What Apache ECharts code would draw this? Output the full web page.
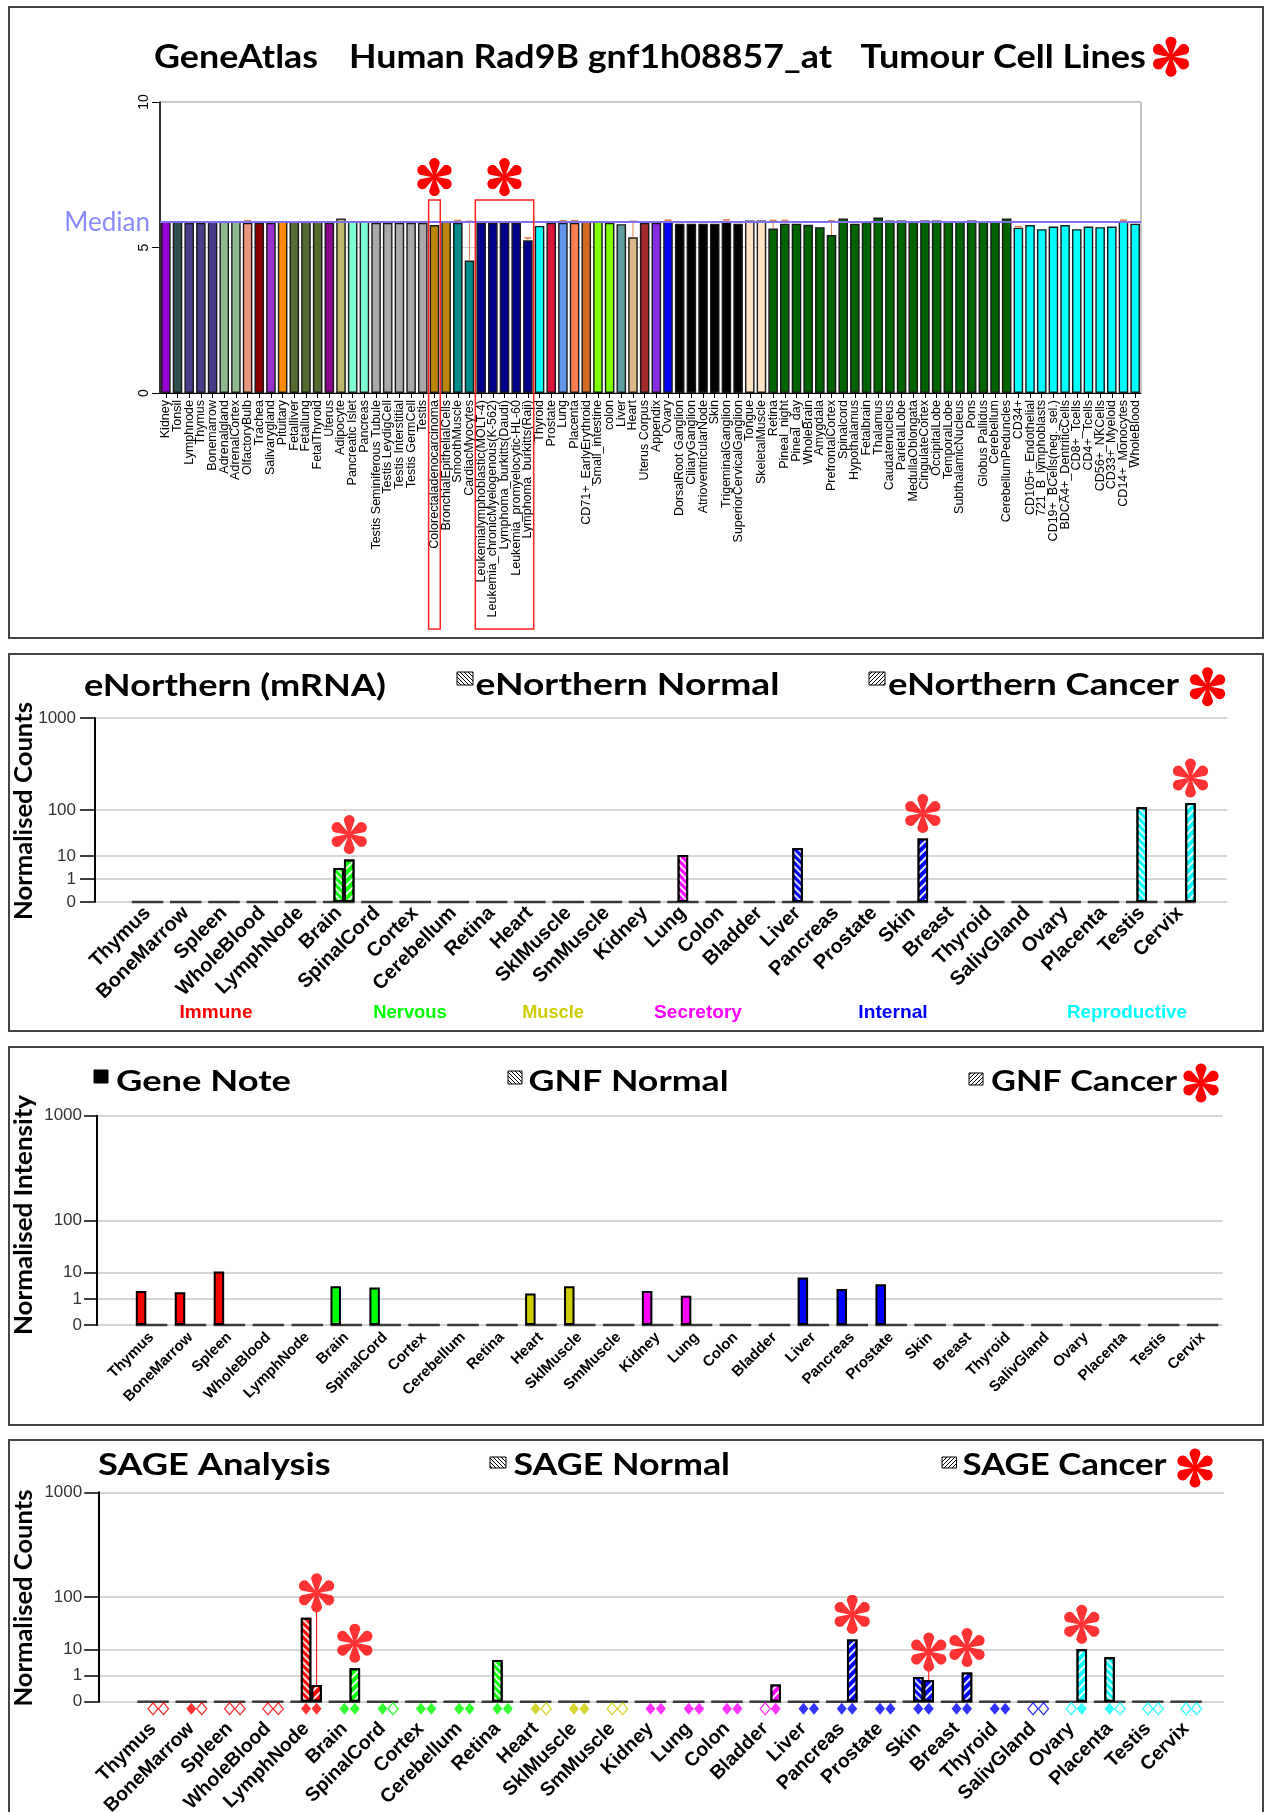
<!DOCTYPE html>
<html><head><meta charset="utf-8">
<script src="https://cdn.jsdelivr.net/npm/echarts@6/dist/echarts.min.js"></script>
<style>html,body{margin:0;padding:0;background:#fff}#c{width:1270px;height:1812px}</style>
</head><body><div id="c"></div>
<script>
// ---------------- DATA ----------------
const gaTissues = ['Kidney','Tonsil','Lymphnode','Thymus','Bonemarrow','Adrenalgland','AdrenalCortex','OlfactoryBulb','Trachea','Salivarygland','Pituitary','Fetalliver','Fetallung','FetalThyroid','Uterus','Adipocyte','Pancreatic Islet','Pancreas','Testis Seminiferous Tubule','Testis LeydigCell','Testis Interstitial','Testis GermCell','Testis','Colorectaladenocarcinoma','BronchialEpithelialCells','SmoothMuscle','CardiacMyocytes','Leukemialymphoblastic(MOLT-4)','Leukemia_chronicMyelogenous(K-562)','Lymphoma_burkitts(Daudi)','Leukemia_promyelocytic-HL-60','Lymphoma_burkitts(Raji)','Thyroid','Prostate','Lung','Placenta','CD71+_EarlyErythroid','Small_intestine','colon','Liver','Heart','Uterus Corpus','Appendix','Ovary','DorsalRoot Ganglion','CiliaryGanglion','AtrioventricularNode','Skin','TrigeminalGanglion','SuperiorCervicalGanglion','Tongue','SkeletalMuscle','Retina','Pineal_night','Pineal_day','WholeBrain','Amygdala','PrefrontalCortex','Spinalcord','Hypothalamus','Fetalbrain','Thalamus','Caudatenucleus','ParietalLobe','MedullaOblongata','CingulateCortex','OccipitalLobe','TemporalLobe','SubthalamicNucleus','Pons','Globus Pallidus','Cerebellum','CerebellumPeduncles','CD34+','CD105+_Endothelial','721_B_lymphoblasts','CD19+_BCells(neg._sel.)','BDCA4+_DentriticCells','CD8+_Tcells','CD4+_Tcells','CD56+_NKCells','CD33+_Myeloid','CD14+_Monocytes','WholeBlood'];
const gaValues = [5.9,5.9,5.85,5.85,5.9,5.9,5.9,5.85,5.85,5.85,5.9,5.9,5.9,5.9,5.85,6.0,5.9,5.9,5.85,5.85,5.85,5.85,5.85,5.77,5.9,5.85,4.55,5.85,5.85,5.85,5.85,5.25,5.74,5.85,5.85,5.85,5.9,5.9,5.85,5.8,5.35,5.85,5.85,5.9,5.82,5.82,5.82,5.82,5.9,5.82,5.93,5.93,5.65,5.82,5.82,5.78,5.7,5.43,6.0,5.82,5.88,6.03,5.93,5.93,5.9,5.93,5.93,5.9,5.9,5.93,5.9,5.9,6.0,5.68,5.77,5.63,5.72,5.77,5.63,5.72,5.7,5.72,5.89,5.82];
const gaErrHigh = {'OlfactoryBulb':5.92,'SmoothMuscle':5.93,'CardiacMyocytes':5.9,'Lymphoma_burkitts(Raji)':5.33,'Lung':5.92,'Placenta':5.92,'Heart':5.9,'Ovary':5.94,'TrigeminalGanglion':5.95,'Retina':5.93,'Pineal_night':5.93,'PrefrontalCortex':5.92,'CD34+':5.72,'CD14+_Monocytes':5.94};
const gaMedian = 5.87;
const gaHighlight = [['Colorectaladenocarcinoma','Colorectaladenocarcinoma'],['Leukemialymphoblastic(MOLT-4)','Lymphoma_burkitts(Raji)']];
const gaTicks = [0,5,10];

const tissues = ['Thymus','BoneMarrow','Spleen','WholeBlood','LymphNode','Brain','SpinalCord','Cortex','Cerebellum','Retina','Heart','SklMuscle','SmMuscle','Kidney','Lung','Colon','Bladder','Liver','Pancreas','Prostate','Skin','Breast','Thyroid','SalivGland','Ovary','Placenta','Testis','Cervix'];
const tissueGroup = [0,0,0,0,0,1,1,1,1,1,2,2,2,3,3,3,3,4,4,4,4,4,4,4,5,5,5,5];
const groupNames = ['Immune','Nervous','Muscle','Secretory','Internal','Reproductive'];

const enNormal = [0,0,0,0,0,3,0,0,0,0,0,0,0,0,10.5,0,0,15,0,0,0,0,0,0,0,0,107,0];
const enCancer = [0,0,0,0,0,7,0,0,0,0,0,0,0,0,0,0,0,0,0,0,24,0,0,0,0,0,0,119];
const enStars = ['Brain','Skin','Cervix'];

const geneNote = [2.0,1.8,10.5,0,0,3.0,2.7,0,0,0,1.6,3.0,0,2.0,1.3,0,0,6.6,2.4,3.6,0,0,0,0,0,0,0,0];
const gnfNormal = [0,0,0,0,0,0,0,0,0,0,0,0,0,0,0,0,0,0,0,0,0,0,0,0,0,0,0,0];
const gnfCancer = [0,0,0,0,0,0,0,0,0,0,0,0,0,0,0,0,0,0,0,0,0,0,0,0,0,0,0,0];

const sageNormal = [0,0,0,0,40,0,0,0,0,3.9,0,0,0,0,0,0,0,0,0,0,0.94,0,0,0,0,5.0,0,0];
const sageCancer = [0,0,0,0,0.64,1.9,0,0,0,0,0,0,0,0,0,0,0.66,0,15.5,0,0.83,1.3,0,0,10,0,0,0];
const sageNormalAvail = [0,1,0,0,1,1,1,1,1,1,1,1,0,1,1,1,0,1,1,1,1,1,1,0,0,1,0,0];
const sageCancerAvail = [0,0,0,0,1,1,0,1,1,1,0,1,0,1,1,1,1,1,1,1,1,1,1,0,1,0,0,0];
const sageStars = ['LymphNode','Brain','Pancreas','Skin','Breast','Ovary'];

const logTickValues = [0,1,10,100,1000];
const logTickLabels = ['0','1','10','100','1000'];

// ---------------- STYLE ----------------
const gaColors = ['#9400D3','#2F4F4F','#483D8B','#483D8B','#483D8B','#8FBC8F','#8FBC8F','#E9967A','#8B0000','#9932CC','#FF8C00','#556B2F','#556B2F','#556B2F','#8B008B','#BDB76B','#7FFFD4','#7FFFD4','#A9A9A9','#A9A9A9','#A9A9A9','#A9A9A9','#A9A9A9','#B8860B','#B8860B','#008B8B','#008B8B','#00008B','#00008B','#00008B','#00008B','#00008B','#00FFFF','#DC143C','#6495ED','#FF7F50','#D2691E','#7FFF00','#7FFF00','#5F9EA0','#DEB887','#A52A2A','#8A2BE2','#0000FF','#000000','#000000','#000000','#000000','#000000','#000000','#FFE4C4','#FFE4C4'].concat(new Array(21).fill('#006400'), new Array(11).fill('#00FFFF'));
const groupColors = ['#ff0000','#00ff00','#cccc00','#ff00ff','#0000ff','#00ffff'];

// piecewise log scale used by the source figure (0,1,10,100,1000 at 0,1,2,4,8)
function toAxis(v){
  if(v<=0) return 0;
  if(v<=1) return v;
  const l=Math.log10(v);
  if(v<=10) return 1+l;
  if(v<=100) return 2+2*(l-1);
  return 4+4*(l-2);
}
const tickPos = logTickValues.map(toAxis);

// asterisk outline (unit box 100x100 centred at 50,50)
const AR=36, AH1=14, ARI=8;
function asteriskPts(){
  const pts=[];
  [-90,-30,30,90,150,210].forEach(a=>{
    const t=a*Math.PI/180,c=Math.cos(t),s=Math.sin(t);
    const P=(x,y)=>[50+x*c-y*s, 50+x*s+y*c];
    const ti=(a-30)*Math.PI/180;
    pts.push([50+ARI*Math.cos(ti),50+ARI*Math.sin(ti)]);
    for(let k=0;k<=12;k++){const f=-Math.PI/2+Math.PI*k/12; pts.push(P(AR+AH1*Math.cos(f), AH1*Math.sin(f)));}
  });
  return pts;
}
const ASTPTS = asteriskPts();
const AST = 'M'+ASTPTS.map(p=>p[0].toFixed(2)+' '+p[1].toFixed(2)).join(' L')+' Z';

const mctx = document.createElement('canvas').getContext('2d');
function fitText(text,x,y,size,targetW,o){
  o=o||{};
  const fam=o.family||'Lato', wt=o.weight||'bold';
  mctx.font = wt+' '+size+'px '+fam;
  const w = mctx.measureText(text).width;
  return {type:'text', x:x, y:y, rotation:o.rotation||0, scaleX: targetW/w, z:10,
    style:{text:text, fill:o.color||'#000', fontSize:size, fontWeight:wt, fontFamily:fam,
      align:o.align||'left', verticalAlign:'middle'}};
}
function hatchCanvas(dir){
  const c=document.createElement('canvas'); c.width=c.height=4;
  const g=c.getContext('2d'); g.fillStyle='#fff'; g.fillRect(0,0,4,4);
  g.strokeStyle='#000'; g.lineWidth=1; g.beginPath();
  if(dir>0){g.moveTo(0,4);g.lineTo(4,0);g.moveTo(-1,1);g.lineTo(1,-1);g.moveTo(3,5);g.lineTo(5,3);}
  else {g.moveTo(0,0);g.lineTo(4,4);g.moveTo(-1,3);g.lineTo(1,5);g.moveTo(3,-1);g.lineTo(5,1);}
  g.stroke(); return c;
}
function icon(x,y,w,h,kind){
  let fill = kind==='solid' ? '#000' : {image:hatchCanvas(kind==='c'?1:-1), repeat:'repeat'};
  return {type:'rect', shape:{x:x,y:y,width:w,height:h}, z:10, style:{fill:fill, stroke:'#000', lineWidth:1}};
}
function titleAst(cx,cy,h){
  const s=h/100;
  return {type:'polygon', z:10, shape:{points:ASTPTS.map(p=>[cx+(p[0]-50)*s, cy+(p[1]-50)*s])}, style:{fill:'#ff0000'}};
}

const hatchN = {symbol:'rect', symbolSize:1, color:'rgba(255,255,255,0.85)', dashArrayX:[1,0], dashArrayY:[1.5,2.5], rotation:Math.PI/4};
const hatchC = {symbol:'rect', symbolSize:1, color:'rgba(255,255,255,0.9)', dashArrayX:[1,0], dashArrayY:[2,4], rotation:-Math.PI/4};

const SLOT = 10.5;
function tBar(name, ai, vals, decal){
  return {type:'bar', name:name, xAxisIndex:ai, yAxisIndex:ai, barWidth:SLOT, barGap:'0%', z:3,
    itemStyle:{borderColor:'#000', borderWidth:2},
    data: vals.map((v,i)=> v>0 ? {value:toAxis(v), itemStyle:{color:groupColors[tissueGroup[i]], decal:decal||null}} : '-')};
}
function dashSeries(ai){
  return {type:'scatter', xAxisIndex:ai, yAxisIndex:ai, symbol:'rect', symbolSize:[31.5,2.5], clip:false, silent:true, z:2,
    itemStyle:{color:'#111'}, data: tissues.map(t=>[t,0])};
}
function starSeries(ai, stars, nv, cv){
  return {type:'scatter', xAxisIndex:ai, yAxisIndex:ai, symbol:'path://'+AST, symbolSize:39, symbolKeepAspect:true,
    symbolOffset:[SLOT,-25], clip:false, silent:true, z:6, itemStyle:{color:'#ff0000'},
    data: stars.map(t=>{const i=tissues.indexOf(t); return [t, toAxis(Math.max(nv[i],cv[i]))];})};
}
function frameAxes(gi, labelMargin, tickLen){
  return {
    x:{type:'value', gridIndex:gi, min:0, max:1, show:false},
    y:{type:'value', gridIndex:gi, min:0, max:8,
      axisLine:{show:true, lineStyle:{color:'#000', width:2}},
      axisTick:{show:true, length:tickLen, customValues:tickPos, lineStyle:{color:'#000', width:1.5}},
      axisLabel:{show:true, customValues:tickPos, margin:labelMargin, color:'#333', fontSize:17, fontFamily:'Liberation Sans',
        formatter:(v)=>{const k=tickPos.indexOf(v); return k>=0?logTickLabels[k]:'';}},
      splitLine:{show:true, lineStyle:{color:'#c8c8c8', width:1.5}}}
  };
}
function catAxis(gi, fs, margin){
  return {type:'category', gridIndex:gi, data:tissues, axisLine:{show:false}, axisTick:{show:false},
    axisLabel:{interval:0, rotate:45, fontSize:fs, fontWeight:'bold', fontFamily:'Liberation Sans', color:'#000', margin:margin}};
}
function hiddenY(gi){ return {type:'value', gridIndex:gi, min:0, max:8, show:false, splitLine:{show:false}}; }

const f2=frameAxes(1,19,15), f3=frameAxes(3,15,13), f4=frameAxes(5,17,15);

const grids = [
  {left:160, top:102, width:981, height:291, show:true, borderColor:'#888', borderWidth:1},
  {left:95, top:718, width:1132, height:184},
  {left:128.4, top:718, width:1070.7, height:184},
  {left:97, top:1115.7, width:1125.6, height:209.3},
  {left:132.1, top:1115.7, width:1090, height:209.3},
  {left:99.2, top:1492.3, width:1124.8, height:209.4},
  {left:133.9, top:1492.3, width:1071.3, height:209.4}
].map(g=>Object.assign({outerBoundsMode:'none', containLabel:false}, g));

const xAxes = [
  {type:'category', gridIndex:0, data:gaTissues,
    axisLine:{show:true, lineStyle:{color:'#000', width:1}},
    axisTick:{show:true, alignWithLabel:true, length:5, lineStyle:{color:'#000'}},
    axisLabel:{interval:0, rotate:90, fontSize:12.5, fontFamily:'Liberation Sans', color:'#000', margin:7}},
  f2.x, catAxis(2,20,8), f3.x, catAxis(4,15,10), f4.x, catAxis(6,19.5,24)
];
const yAxes = [
  {type:'value', gridIndex:0, min:0, max:10, interval:5,
    axisLine:{show:true, lineStyle:{color:'#000', width:1.5}},
    axisTick:{show:true, length:8, lineStyle:{color:'#000'}},
    axisLabel:{rotate:90, fontSize:14, fontFamily:'Liberation Sans', color:'#000', margin:9,
      formatter:(v)=> gaTicks.indexOf(v)>=0 ? String(v) : ''},
    splitLine:{show:true, lineStyle:{color:'#cfcfcf', width:1.2}}},
  f2.y, hiddenY(2), f3.y, hiddenY(4), f4.y, hiddenY(6)
];

const series = [
  {type:'bar', xAxisIndex:0, yAxisIndex:0, barCategoryGap:'18%', z:3,
    itemStyle:{borderColor:'#1a1a1a', borderWidth:1.4, color:(p)=>gaColors[p.dataIndex]},
    data: gaValues,
    markLine:{silent:true, symbol:'none', data:[{yAxis:gaMedian}],
      lineStyle:{color:'#8070f0', width:2, type:'solid'},
      label:{show:true, position:'start', formatter:'Median', color:'#8a8aff', fontSize:26, fontFamily:'Lato', distance:10}}},
  {type:'custom', xAxisIndex:0, yAxisIndex:0, z:4, silent:true,
    data: Object.keys(gaErrHigh).map(k=>{const i=gaTissues.indexOf(k); return [i, gaValues[i], gaErrHigh[k]];}),
    renderItem:(p,api)=>{
      const i=api.value(0), a=api.coord([i,api.value(1)]), b=api.coord([i,api.value(2)]);
      return {type:'group', children:[
        {type:'line', shape:{x1:a[0],y1:a[1],x2:b[0],y2:b[1]}, style:{stroke:'#e0804a', lineWidth:1}},
        {type:'line', shape:{x1:b[0]-3.5,y1:b[1],x2:b[0]+3.5,y2:b[1]}, style:{stroke:'#e0804a', lineWidth:1.5}}]};
    }},
  {type:'custom', xAxisIndex:0, yAxisIndex:0, z:7, silent:true, clip:false,
    data: gaHighlight.map(g=>[gaTissues.indexOf(g[0]), gaTissues.indexOf(g[1])]),
    renderItem:(p,api)=>{
      const s=api.value(0), e=api.value(1), bw=api.size([1,0])[0];
      const x0=api.coord([s,0])[0]-bw/2, x1=api.coord([e,0])[0]+bw/2;
      const yTop=api.coord([s,6.63])[1], yBot=api.coord([s,0])[1]+236;
      const cx=(x0+x1)/2, cy=api.coord([s,7.42])[1], h=38, sc=h/100;
      return {type:'group', children:[
        {type:'rect', shape:{x:x0,y:yTop,width:x1-x0,height:yBot-yTop}, style:{fill:'none', stroke:'#ff2020', lineWidth:1.5}},
        {type:'polygon', shape:{points:ASTPTS.map(q=>[cx+(q[0]-50)*sc, cy+(q[1]-50)*sc])}, style:{fill:'#ff0000'}}]};
    }},
  // eNorthern
  tBar('dummy',2,new Array(28).fill(0)),
  tBar('eNorthern Normal',2,enNormal,hatchN),
  tBar('eNorthern Cancer',2,enCancer,hatchC),
  dashSeries(2),
  starSeries(2,enStars,enNormal,enCancer),
  // GNF
  tBar('Gene Note',4,geneNote,null),
  tBar('GNF Normal',4,gnfNormal,hatchN),
  tBar('GNF Cancer',4,gnfCancer,hatchC),
  dashSeries(4),
  // SAGE
  tBar('dummy',6,new Array(28).fill(0)),
  tBar('SAGE Normal',6,sageNormal,hatchN),
  tBar('SAGE Cancer',6,sageCancer,hatchC),
  dashSeries(6),
  starSeries(6,sageStars,sageNormal,sageCancer),
  {type:'custom', xAxisIndex:6, yAxisIndex:6, z:5, silent:true, clip:false,
    data: sageStars.map(t=>tissues.indexOf(t)).filter(i=>sageNormal[i]>sageCancer[i]).map(i=>[i,toAxis(sageCancer[i]),toAxis(sageNormal[i])]),
    renderItem:(p,api)=>{
      const i=api.value(0), a=api.coord([i,api.value(1)]), b=api.coord([i,api.value(2)]);
      return {type:'line', shape:{x1:a[0]+SLOT,y1:a[1],x2:a[0]+SLOT,y2:b[1]-6}, style:{stroke:'#ff0000', lineWidth:1}};
    }},
  {type:'scatter', xAxisIndex:6, yAxisIndex:6, symbol:'diamond', symbolSize:[10,12], symbolOffset:[0,7], clip:false, silent:true, z:4,
    data: tissues.map((t,i)=>({value:[t,0], itemStyle: sageNormalAvail[i] ? {color:groupColors[tissueGroup[i]]} : {color:'#fff', borderColor:groupColors[tissueGroup[i]], borderWidth:1.3}}))},
  {type:'scatter', xAxisIndex:6, yAxisIndex:6, symbol:'diamond', symbolSize:[10,12], symbolOffset:[SLOT,7], clip:false, silent:true, z:4,
    data: tissues.map((t,i)=>({value:[t,0], itemStyle: sageCancerAvail[i] ? {color:groupColors[tissueGroup[i]]} : {color:'#fff', borderColor:groupColors[tissueGroup[i]], borderWidth:1.3}}))}
];

const groupLabelPos = [[216,73],[410,73.5],[553,61.7],[698,87.8],[893,69.4],[1127,120]];

const graphics = [
  {type:'rect', shape:{x:9,y:7,width:1254,height:631}, style:{fill:'none', stroke:'#444', lineWidth:2}},
  {type:'rect', shape:{x:9,y:654,width:1254,height:377}, style:{fill:'none', stroke:'#444', lineWidth:2}},
  {type:'rect', shape:{x:9,y:1047,width:1254,height:378}, style:{fill:'none', stroke:'#444', lineWidth:2}},
  {type:'rect', shape:{x:9,y:1440,width:1254,height:390}, style:{fill:'none', stroke:'#444', lineWidth:2}},
  fitText('GeneAtlas',154,58,32,164),
  fitText('Human Rad9B gnf1h08857_at',349,58,32,483),
  fitText('Tumour Cell Lines',860.6,58,32,285.4),
  titleAst(1171,56.7,40),
  fitText('eNorthern (mRNA)',84,686,30,302),
  icon(457,672,16,13,'n'),
  fitText('eNorthern Normal',475.5,685,30,304),
  icon(869,672,16,13,'c'),
  fitText('eNorthern Cancer',888,685,30,291),
  titleAst(1207.5,686.7,39),
  fitText('Gene Note',116,1081.7,29,175),
  icon(94,1070,14,13,'solid'),
  fitText('GNF Normal',528.6,1081.7,29,200),
  icon(508,1071,14,13,'n'),
  fitText('GNF Cancer',991,1081.7,29,186),
  icon(969,1073,14,12,'c'),
  titleAst(1201,1083,39),
  fitText('SAGE Analysis',98,1465,30,232.6),
  icon(490,1457,16,11,'n'),
  fitText('SAGE Normal',513.5,1465,30,216.5),
  icon(942,1457,14.5,11,'c'),
  fitText('SAGE Cancer',962.6,1465,30,204),
  titleAst(1195,1468,39),
  fitText('Normalised Counts',23.5,811,25,218,{align:'center', rotation:Math.PI/2}),
  fitText('Normalised Intensity',23.5,1215,25,240,{align:'center', rotation:Math.PI/2}),
  fitText('Normalised Counts',23.5,1598,25,217,{align:'center', rotation:Math.PI/2})
].concat(groupNames.map((g,k)=>fitText(g,groupLabelPos[k][0],1012.5,19,groupLabelPos[k][1],{align:'center', family:'Liberation Sans', color:groupColors[k]})));

const chart = echarts.init(document.getElementById('c'), null, {renderer:'canvas'});
chart.setOption({
  animation:false, backgroundColor:'#fff',
  grid:grids, xAxis:xAxes, yAxis:yAxes, series:series, graphic:{elements:graphics}
});
</script></body></html>
